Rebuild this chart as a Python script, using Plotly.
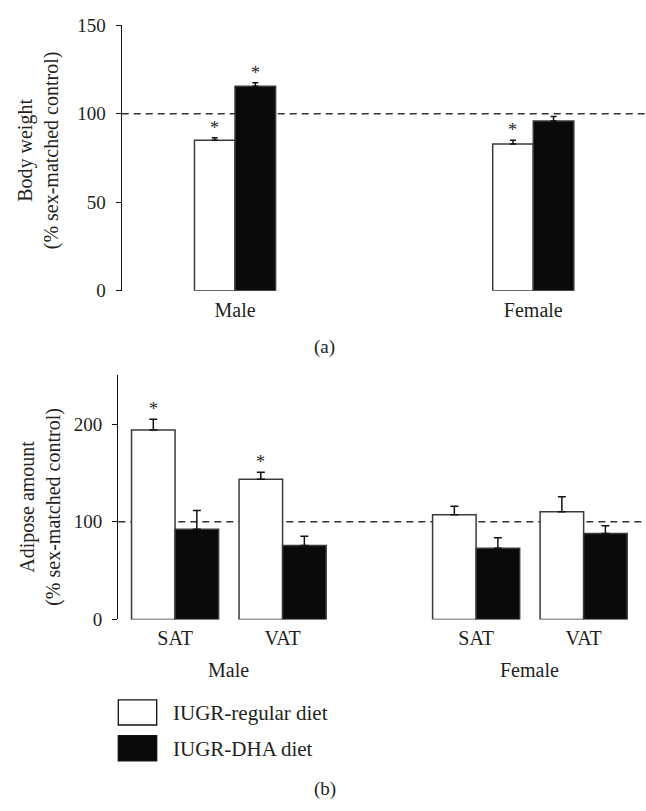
import plotly.graph_objects as go

W, H = 646, 811

# ---------------- data: panel (a) body weight ----------------
sexes = ["Male", "Female"]
sex_pos = [0, 1]
bw_regular = [85.0, 83.0]
bw_regular_err = [1.5, 2.0]
bw_dha = [115.5, 96.0]
bw_dha_err = [2.0, 2.5]
bw_regular_sig = [True, True]
bw_dha_sig = [True, False]
bw_ticks = [0, 50, 100, 150]

# ---------------- data: panel (b) adipose amount ----------------
depots = ["SAT", "VAT", "SAT", "VAT"]
depot_pos = [0, 1, 2.8, 3.8]
group_names = ["Male", "Female"]
group_members = [[0, 1], [2, 3]]
ad_regular = [194.0, 143.7, 107.3, 110.3]
ad_regular_err = [11.0, 7.0, 8.7, 15.3]
ad_dha = [92.3, 75.7, 73.0, 88.0]
ad_dha_err = [19.4, 9.6, 10.7, 8.0]
ad_regular_sig = [True, True, False, False]
ad_dha_sig = [False, False, False, False]
ad_ticks = [0, 100, 200]

ref_level = 100
series_names = ["IUGR-regular diet", "IUGR-DHA diet"]

# ---------------- style ----------------
FONT = "Liberation Serif"
TXT = "#231f20"
OUTLINE = "#3a3a3a"
BLACK = "#0a0a0a"


def px(xp):
    return xp / W


def py(yp):
    return 1 - yp / H


fig = go.Figure()

# widths (data units) of individual bars
wa = 0.136
wb = 0.405


def add_pair(xpos, reg, reg_err, dha, dha_err, w, xa, ya, capw):
    for vals, errs, fill, off in [
        (reg, reg_err, "white", -w),
        (dha, dha_err, BLACK, 0.0),
    ]:
        fig.add_trace(go.Bar(
            x=xpos, y=vals, width=w, offset=off,
            marker=dict(color=fill, line=dict(color=OUTLINE, width=1.5)),
            error_y=dict(type="data", array=errs, arrayminus=[0] * len(errs),
                         symmetric=False, color="#111111", thickness=1.5, width=capw),
            xaxis=xa, yaxis=ya, showlegend=False, hoverinfo="skip",
        ))


add_pair(sex_pos, bw_regular, bw_regular_err, bw_dha, bw_dha_err, wa, "x", "y", 3)
add_pair(depot_pos, ad_regular, ad_regular_err, ad_dha, ad_dha_err, wb, "x2", "y2", 4)

annotations = []


def add_stars(xpos, vals, errs, sig, w, off, xr, yr):
    for p, v, e, s in zip(xpos, vals, errs, sig):
        if s:
            annotations.append(dict(
                x=p + off + w / 2, y=v + e, xref=xr, yref=yr, text="*",
                showarrow=False, yanchor="bottom", xanchor="center", yshift=-2,
                font=dict(family=FONT, size=18, color=TXT)))


add_stars(sex_pos, bw_regular, bw_regular_err, bw_regular_sig, wa, -wa, "x", "y")
add_stars(sex_pos, bw_dha, bw_dha_err, bw_dha_sig, wa, 0.0, "x", "y")
add_stars(depot_pos, ad_regular, ad_regular_err, ad_regular_sig, wb, -wb, "x2", "y2")
add_stars(depot_pos, ad_dha, ad_dha_err, ad_dha_sig, wb, 0.0, "x2", "y2")

# group labels under panel (b)
for name, members in zip(group_names, group_members):
    cx = sum(depot_pos[i] for i in members) / len(members)
    annotations.append(dict(x=cx, y=py(678), xref="x2", yref="paper", text=name,
                            showarrow=False, xanchor="center", yanchor="middle",
                            font=dict(family=FONT, size=20, color=TXT)))

# y-axis titles
annotations.append(dict(x=px(38), y=py(144), xref="paper", yref="paper",
                        text="Body weight<br>(% sex-matched control)", textangle=-90,
                        showarrow=False, xanchor="center", yanchor="middle",
                        font=dict(family=FONT, size=20, color=TXT)))
annotations.append(dict(x=px(41), y=py(510), xref="paper", yref="paper",
                        text="Adipose amount<br>(% sex-matched control)", textangle=-90,
                        showarrow=False, xanchor="center", yanchor="middle",
                        font=dict(family=FONT, size=20, color=TXT)))

# panel letters
annotations.append(dict(x=px(324), y=py(346), xref="paper", yref="paper", text="(a)",
                        showarrow=False, xanchor="center", yanchor="middle",
                        font=dict(family=FONT, size=19, color=TXT)))
annotations.append(dict(x=px(325), y=py(800), xref="paper", yref="paper", text="(b)",
                        showarrow=False, xanchor="center", yanchor="middle",
                        font=dict(family=FONT, size=19, color=TXT)))

# legend (drawn manually)
shapes = []
leg_rows = [(708.3, 734.0, 721.7, "white"), (745.0, 770.7, 759.0, BLACK)]
for (y0, y1, yc, fill), name in zip(leg_rows, series_names):
    shapes.append(dict(type="rect", xref="paper", yref="paper",
                       x0=px(118.3), x1=px(156.7), y0=py(y1), y1=py(y0),
                       fillcolor=fill, line=dict(color="#111111", width=1.3)))
    annotations.append(dict(x=px(170.7), y=py(yc), xref="paper", yref="paper", text=name,
                            showarrow=False, xanchor="left", yanchor="middle",
                            font=dict(family=FONT, size=21, color=TXT)))

# dashed reference lines
for xr, yr in [("x", "y"), ("x2", "y2")]:
    shapes.append(dict(type="line", xref=f"{xr} domain", yref=yr, x0=0, x1=1,
                       y0=ref_level, y1=ref_level, layer="below",
                       line=dict(color="#333333", width=1.5, dash="7px,5px")))

yax_common = dict(showline=True, linecolor="#111111", linewidth=1.4, ticks="outside",
                  ticklen=5, tickwidth=1.3, tickcolor="#111111", showgrid=False,
                  zeroline=False, ticklabelstandoff=6,
                  tickfont=dict(family=FONT, size=19, color=TXT))
xax_common = dict(showline=False, ticks="", showgrid=False, zeroline=False,
                  ticklabelstandoff=5,
                  tickfont=dict(family=FONT, size=20, color=TXT))

fig.update_layout(
    width=W, height=H,
    margin=dict(l=0, r=0, t=0, b=0),
    paper_bgcolor="white", plot_bgcolor="rgba(0,0,0,0)",
    barmode="overlay",
    xaxis=dict(domain=[px(121.7), 1], anchor="y", range=[-0.38, 1.378],
               tickvals=sex_pos, ticktext=sexes, **xax_common),
    yaxis=dict(domain=[py(288.3), py(15.7)], anchor="x", range=[0, 150],
               tickvals=bw_ticks, **yax_common),
    xaxis2=dict(domain=[px(118.3), 1], anchor="y2", range=[-0.528, 4.38],
                tickvals=depot_pos, ticktext=depots, **xax_common),
    yaxis2=dict(domain=[py(625.7), py(375)], anchor="x2", range=[0, 250],
                tickvals=ad_ticks, **yax_common),
    annotations=annotations,
    shapes=shapes,
    showlegend=False,
)

fig.write_html("out.html")
